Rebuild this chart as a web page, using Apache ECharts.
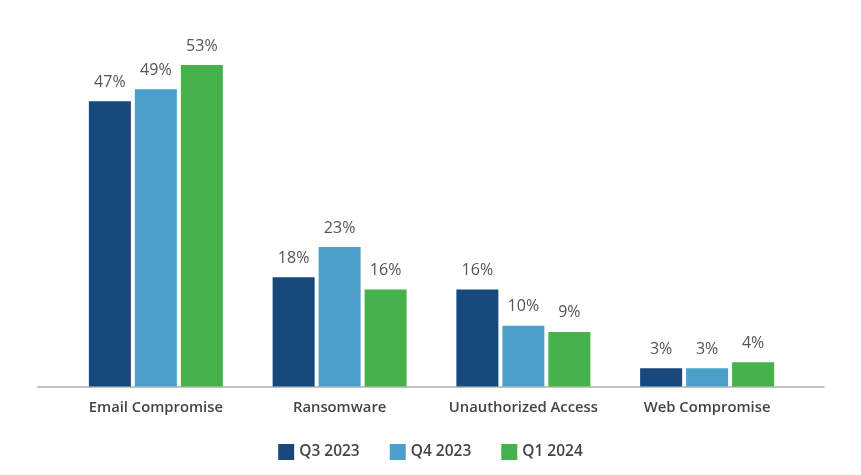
<!DOCTYPE html>
<html><head><meta charset="utf-8">
<script src="https://cdn.jsdelivr.net/npm/echarts@6/dist/echarts.min.js"></script>
<style>html,body{margin:0;padding:0;background:#fff}#c{width:861px;height:475px}</style>
</head><body><div id="c"></div>
<script>
const categories = ['Email Compromise', 'Ransomware', 'Unauthorized Access', 'Web Compromise'];
const seriesNames = ['Q3 2023', 'Q4 2023', 'Q1 2024'];
const q3_2023 = [47, 18, 16, 3];
const q4_2023 = [49, 23, 10, 3];
const q1_2024 = [53, 16, 9, 4];
const colors = ['#17497D', '#4BA0CB', '#45B24B'];
const values = [q3_2023, q4_2023, q1_2024];

const chart = echarts.init(document.getElementById('c'), null, {renderer: 'canvas'});
const font = '"Open Sans", "Noto Sans", sans-serif';
chart.setOption({
  animation: false,
  backgroundColor: '#fff',
  grid: [
    {left: 64, right: 62, top: 22.5, bottom: 88.5},
    {left: 38, right: 37, top: 22.5, bottom: 88.5}
  ],
  legend: {
    bottom: 10, left: 'center',
    itemWidth: 16, itemHeight: 16, itemGap: 30,
    icon: 'rect',
    textStyle: {fontFamily: font, fontSize: 15.5, fontWeight: 600, color: '#444'},
    data: seriesNames
  },
  xAxis: [
    {type: 'category', gridIndex: 0, data: categories,
     axisLine: {show: false}, axisTick: {show: false},
     axisLabel: {interval: 0, margin: 14, fontFamily: font, fontSize: 14.8, fontWeight: 600, color: '#444'}},
    {type: 'category', gridIndex: 1, data: [''],
     axisLine: {show: true, lineStyle: {color: '#b0b0b0', width: 1.5}},
     axisTick: {show: false}, axisLabel: {show: false}}
  ],
  yAxis: [
    {type: 'value', gridIndex: 0, min: 0, max: 60, show: false, splitLine: {show: false}},
    {type: 'value', gridIndex: 1, min: 0, max: 60, show: false, splitLine: {show: false}}
  ],
  series: seriesNames.map((name, i) => ({
    name, type: 'bar', xAxisIndex: 0, yAxisIndex: 0,
    data: values[i], barWidth: 42, barGap: '9.5%',
    itemStyle: {color: colors[i]},
    label: {show: true, position: 'top', distance: 11, formatter: '{c}%',
            fontFamily: font, fontSize: 16, color: '#555'}
  }))
});
</script></body></html>
